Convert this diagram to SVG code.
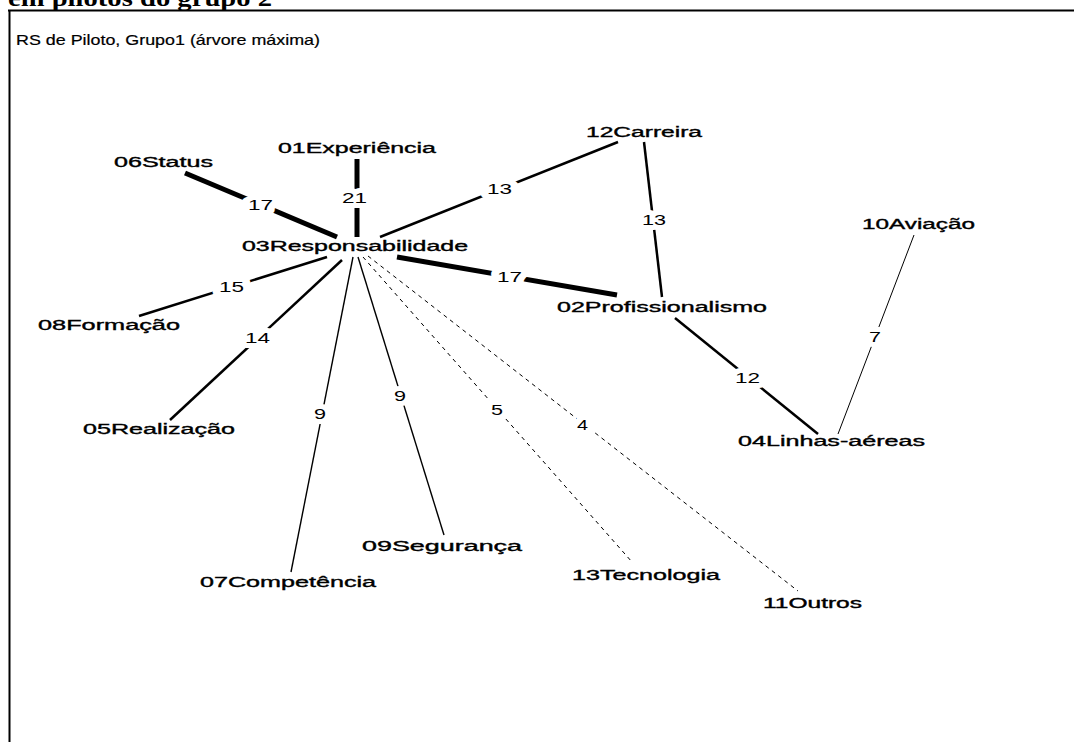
<svg xmlns="http://www.w3.org/2000/svg" width="1074" height="742" viewBox="0 0 1074 742">
<style>
.node text{font-family:"Liberation Sans",Arial,sans-serif;font-size:14px;fill:#000;stroke:#000;stroke-width:0.35px}
.lbl{font-family:"Liberation Sans",Arial,sans-serif;font-size:14px;fill:#000;paint-order:stroke;stroke:#fff;stroke-width:10px;stroke-linejoin:round}
.e{stroke:#000;stroke-linecap:butt;fill:none}
.w5{stroke-width:5}
.w3{stroke-width:2.5}
.w15{stroke-width:1.4}
.w1{stroke-width:1}
.dash{stroke-width:1;stroke-dasharray:4 4}
</style>
<rect x="0" y="0" width="1074" height="742" fill="#fff"/>
<text x="8" y="6" font-family="'Liberation Serif','Times New Roman',serif" font-weight="bold" font-size="24" textLength="264" lengthAdjust="spacingAndGlyphs">em pilotos do grupo 2</text>
<line x1="8" y1="10.5" x2="1074" y2="10.5" stroke="#000" stroke-width="2"/>
<line x1="9.5" y1="10" x2="9.5" y2="742" stroke="#000" stroke-width="2"/>
<text x="16" y="45" font-family="'Liberation Sans',Arial,sans-serif" font-size="14.5" stroke="#000" stroke-width="0.2" textLength="304" lengthAdjust="spacingAndGlyphs">RS de Piloto, Grupo1 (árvore máxima)</text>
<g id="connectors">
<line class="e w5" x1="357" y1="159" x2="357" y2="237"/>
<line class="e w5" x1="185" y1="173" x2="337" y2="237"/>
<line class="e w3" x1="380" y1="237" x2="618" y2="142"/>
<line class="e w5" x1="397" y1="257" x2="617" y2="295"/>
<line class="e w3" x1="644" y1="142" x2="662" y2="297"/>
<line class="e w3" x1="675" y1="318" x2="818" y2="434"/>
<line class="e w1" x1="914" y1="235" x2="838" y2="434"/>
<line class="e w3" x1="327" y1="257" x2="139" y2="316"/>
<line class="e w3" x1="342" y1="260" x2="170" y2="420"/>
<line class="e w15" x1="353" y1="257" x2="291" y2="572"/>
<line class="e w15" x1="358" y1="257" x2="444" y2="535"/>
<line class="e dash" x1="363" y1="257" x2="632" y2="562"/>
<line class="e dash" x1="368" y1="256" x2="798" y2="591"/>
<text class="lbl" x="342" y="203" textLength="25" lengthAdjust="spacingAndGlyphs">21</text>
<text class="lbl" x="248" y="210" textLength="25" lengthAdjust="spacingAndGlyphs">17</text>
<text class="lbl" x="487" y="194" textLength="25" lengthAdjust="spacingAndGlyphs">13</text>
<text class="lbl" x="497" y="282" textLength="25" lengthAdjust="spacingAndGlyphs">17</text>
<text class="lbl" x="642" y="225" textLength="24" lengthAdjust="spacingAndGlyphs">13</text>
<text class="lbl" x="735" y="383" textLength="25" lengthAdjust="spacingAndGlyphs">12</text>
<text class="lbl" x="869" y="342" textLength="12" lengthAdjust="spacingAndGlyphs">7</text>
<text class="lbl" x="219" y="292" textLength="25" lengthAdjust="spacingAndGlyphs">15</text>
<text class="lbl" x="245" y="343" textLength="25" lengthAdjust="spacingAndGlyphs">14</text>
<text class="lbl" x="314" y="419" textLength="12" lengthAdjust="spacingAndGlyphs">9</text>
<text class="lbl" x="394" y="401" textLength="12" lengthAdjust="spacingAndGlyphs">9</text>
<text class="lbl" x="491" y="415" textLength="12" lengthAdjust="spacingAndGlyphs">5</text>
<text class="lbl" x="577" y="430" textLength="11" lengthAdjust="spacingAndGlyphs">4</text>
</g>
<g id="n03" class="node"><text x="242" y="251" textLength="226" lengthAdjust="spacingAndGlyphs">03Responsabilidade</text></g>
<g id="n01" class="node"><text x="278" y="153" textLength="158" lengthAdjust="spacingAndGlyphs">01Experiência</text></g>
<g id="n06" class="node"><text x="114" y="167" textLength="99" lengthAdjust="spacingAndGlyphs">06Status</text></g>
<g id="n12" class="node"><text x="586" y="137" textLength="116" lengthAdjust="spacingAndGlyphs">12Carreira</text></g>
<g id="n02" class="node"><text x="557" y="312" textLength="210" lengthAdjust="spacingAndGlyphs">02Profissionalismo</text></g>
<g id="n10" class="node"><text x="862" y="229" textLength="113" lengthAdjust="spacingAndGlyphs">10Aviação</text></g>
<g id="n04" class="node"><text x="738" y="446" textLength="187" lengthAdjust="spacingAndGlyphs">04Linhas-aéreas</text></g>
<g id="n08" class="node"><text x="38" y="330" textLength="142" lengthAdjust="spacingAndGlyphs">08Formação</text></g>
<g id="n05" class="node"><text x="83" y="434" textLength="152" lengthAdjust="spacingAndGlyphs">05Realização</text></g>
<g id="n07" class="node"><text x="200" y="587" textLength="176" lengthAdjust="spacingAndGlyphs">07Competência</text></g>
<g id="n09" class="node"><text x="362" y="551" textLength="160" lengthAdjust="spacingAndGlyphs">09Segurança</text></g>
<g id="n13" class="node"><text x="572" y="580" textLength="148" lengthAdjust="spacingAndGlyphs">13Tecnologia</text></g>
<g id="n11" class="node"><text x="763" y="608" textLength="99" lengthAdjust="spacingAndGlyphs">11Outros</text></g>
</svg>
